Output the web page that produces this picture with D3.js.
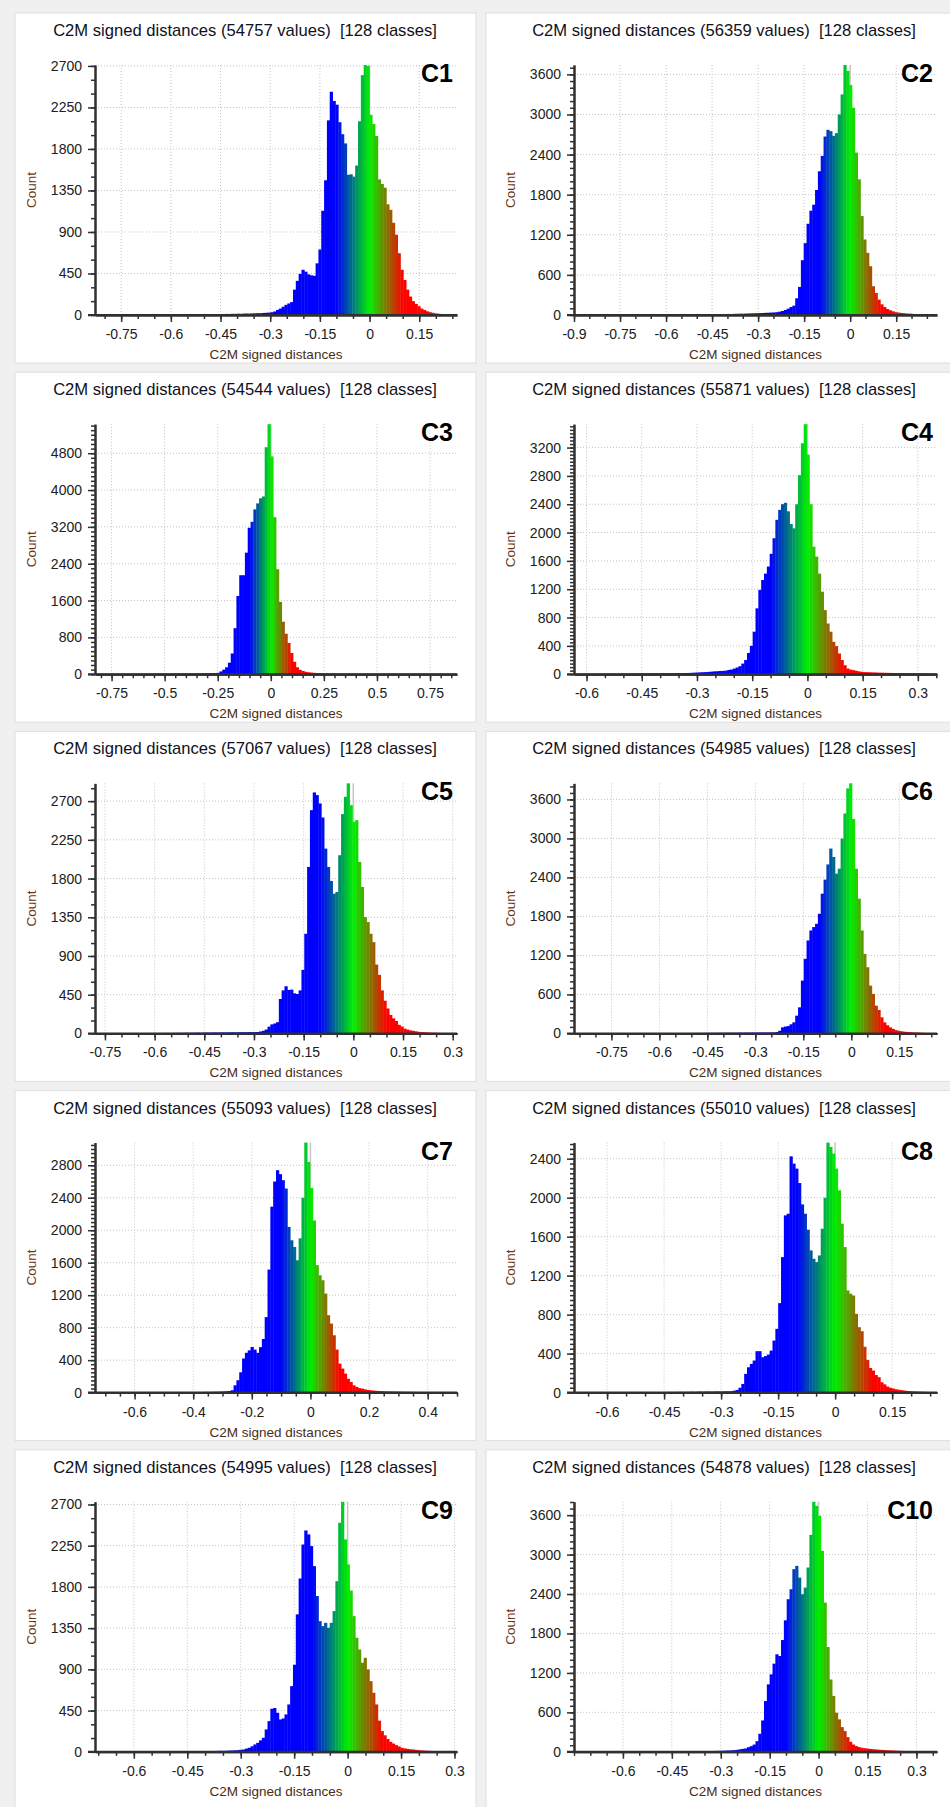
<!DOCTYPE html>
<html>
<head>
<meta charset="utf-8">
<script src="https://cdn.jsdelivr.net/npm/d3@7"></script>
<style>
  body { margin: 0; background: #f0f0f0; }
  svg { display: block; }
  text { font-family: "Liberation Sans", Arial, sans-serif; }
</style>
</head>
<body>
<svg id="chart" width="950" height="1807"></svg>
<script>
// ------------------------------------------------------------
// DATA
// ------------------------------------------------------------
const panelNames  = ["C1","C2","C3","C4","C5","C6","C7","C8","C9","C10"];
const valueTotals = [54757,56359,54544,55871,57067,54985,55093,55010,54995,54878];
const classCount  = 128;

// histogram range (min / max distance) of each panel
const xMins = [-0.829,-0.9,-0.828,-0.634,-0.78,-0.867,-0.735,-0.687,-0.709,-0.75];
const xMaxs = [0.264,0.283,0.877,0.352,0.313,0.268,0.5,0.268,0.307,0.363];

const xTicks = [
  [-0.75,-0.6,-0.45,-0.3,-0.15,0,0.15],
  [-0.9,-0.75,-0.6,-0.45,-0.3,-0.15,0,0.15],
  [-0.75,-0.5,-0.25,0,0.25,0.5,0.75],
  [-0.6,-0.45,-0.3,-0.15,0,0.15,0.3],
  [-0.75,-0.6,-0.45,-0.3,-0.15,0,0.15,0.3],
  [-0.75,-0.6,-0.45,-0.3,-0.15,0,0.15],
  [-0.6,-0.4,-0.2,0,0.2,0.4],
  [-0.6,-0.45,-0.3,-0.15,0,0.15],
  [-0.6,-0.45,-0.3,-0.15,0,0.15,0.3],
  [-0.6,-0.45,-0.3,-0.15,0,0.15,0.3]
];
const yTicks = [
  [0,450,900,1350,1800,2250,2700],
  [0,600,1200,1800,2400,3000,3600],
  [0,800,1600,2400,3200,4000,4800],
  [0,400,800,1200,1600,2000,2400,2800,3200],
  [0,450,900,1350,1800,2250,2700],
  [0,600,1200,1800,2400,3000,3600],
  [0,400,800,1200,1600,2000,2400,2800],
  [0,400,800,1200,1600,2000,2400],
  [0,450,900,1350,1800,2250,2700],
  [0,600,1200,1800,2400,3000,3600]
];
const yMinorSteps = [150,100,100,50,150,100,50,50,150,100];

const countsC1 = [
  1,1,2,1,2,2,1,2,3,2, 2,3,2,3,3,2,3,4,3,3, 4,3,4,5,4,5,4,5,6,5, 6,5,6,7,6,7,8,7,8,9,
  8,9,10,9,11,10,12,11,13,12, 14,13,15,16,15,17,18,20,19,22, 24,26,30,38,55,70,90,110,125,140,
  275,370,446,490,470,440,430,425,560,710, 1130,1460,2110,2420,2320,2280,2090,1960,1860,1520,
  1525,1500,1620,2100,2600,2710,2700,2170,2070,1940, 1470,1420,1380,1200,1140,1000,870,670,490,380,
  275,200,150,120,95,70,54,40,30,24, 18,14,11,9,7,5,4,3
];
const countsC2 = [
  1,0,1,1,0,1,1,2,1,1, 2,1,2,2,1,2,3,2,2,3, 3,2,3,4,3,3,4,4,5,4, 5,4,5,6,5,6,7,6,7,8,
  7,8,9,8,10,9,11,10,12,13, 12,14,13,15,16,15,17,18,20,19, 21,22,24,25,27,28,30,32,34,36,
  38,42,50,60,75,95,120,140,250,420, 820,1075,1365,1560,1650,1870,2150,2380,2670,2770,
  2750,2680,2720,3000,3300,3740,3650,3440,3100,2430, 2030,1480,1130,930,730,430,330,230,160,120,
  90,70,55,42,36,30,26,22,20,17, 15,12,10,8,6,5,4,3
];
const countsC3 = [
  2,2,3,2,3,3,4,3,4,5, 4,5,5,6,5,6,7,6,7,8, 7,8,9,8,9,10,9,11,10,12, 11,13,12,14,13,15,14,16,17,18,
  19,21,24,30,60,100,150,250,450,1000, 1700,2150,2150,2640,3180,3310,3580,3710,3820,3860,
  4930,5430,4730,3410,2280,1570,1140,880,680,460, 270,150,95,70,52,42,35,29,24,20,
  16,14,12,11,10,9,8,8,7,7, 6,6,5,5,5,4,4,4,3,3, 3,3,2,3,2,2,2,2,2,1,
  2,1,1,2,1,1,1,1,2,1, 1,1,1,0,1,1,1,1
];
const countsC4 = [
  1,1,2,1,2,2,3,2,3,3, 3,4,3,4,5,4,5,6,5,6, 7,6,8,9,10,9,8,9,10,11, 10,12,11,12,13,14,15,14,16,17,
  18,20,22,24,26,28,30,33,36,40, 42,45,47,50,60,66,80,95,113,150,
  200,300,400,600,930,1190,1330,1420,1520,1700, 1920,2180,2320,2400,2420,2300,2120,2060,2400,2810,
  3260,3530,3100,2400,1800,1660,1420,1165,905,716, 600,457,396,292,200,127,80,65,57,48,
  40,33,30,28,27,25,24,22,21,20, 19,18,17,16,15,15,14,14,13,12, 11,10,9,8,7,6,5,4
];
const countsC5 = [
  1,1,2,1,1,2,2,1,2,2, 3,2,3,3,2,3,4,3,3,4, 4,5,4,5,5,6,5,6,6,7, 6,7,8,7,8,8,9,8,9,10,
  9,10,11,10,11,12,11,12,13,12, 13,14,13,14,15,14,15,16,22,30,
  45,78,105,115,130,400,500,548,505,509, 466,458,500,738,1158,1935,2595,2801,2770,2673,
  2510,2148,1935,1772,1624,1643,2071,2549,2750,2906, 2653,2459,2479,1993,1702,1352,1294,1158,1061,800,
  680,500,380,290,215,175,145,100,80,55, 45,35,30,24,18,15,13,11,9,8, 7,6,5,5,4,4,3,3
];
const countsC6 = [
  1,1,1,2,1,1,2,1,2,2, 1,2,2,3,2,2,3,2,3,3, 3,4,3,4,4,3,4,5,4,5, 5,4,5,6,5,6,6,5,6,7,
  6,7,7,8,7,8,8,9,8,9, 9,10,9,10,10,11,10,11,12,11, 12,12,13,12,13,14,13,14,14,15,
  15,22,41,93,105,113,140,170,273,401, 813,1147,1430,1584,1636,1687,1841,2150,2366,2600,
  2844,2715,2458,2535,2998,3384,3770,3847,3300,2535, 2073,1584,1224,1018,735,607,427,360,247,170,
  125,93,70,51,40,32,26,22,19,16, 14,12,10,8,6,5,4,3
];
const countsC7 = [
  2,1,2,2,1,2,3,2,2,3, 2,3,3,2,3,4,3,3,4,3, 4,4,5,4,5,4,5,6,5,6, 6,5,6,7,6,7,8,7,8,9,
  8,9,10,11,12,14,16,20,29,90, 152,250,420,490,520,562,530,490,560,660,
  930,1515,2290,2600,2739,2690,2616,2513,2041,1876, 1794,1630,1900,2400,3079,2840,2520,2120,1570,1445,
  1384,1219,953,850,706,530,357,296,234,170, 130,90,70,55,49,40,32,29,25,22,
  20,18,16,15,14,13,12,12,11,10, 10,9,9,8,8,7,7,6,6,5, 5,5,4,4,4,3,3,3
];
const countsC8 = [
  1,2,1,2,2,1,2,3,2,2, 3,2,3,3,2,3,4,3,4,3, 4,4,3,5,4,5,4,5,5,6, 5,6,6,7,6,7,7,8,7,8,
  8,9,8,9,10,9,10,11,10,11, 12,11,12,13,13,14,20,27,50,89,
  192,260,294,329,425,425,363,375,390,431, 534,654,918,1390,1818,1835,2424,2349,2298,2150,
  1931,1835,1671,1459,1373,1339,1407,1681,2000,2565, 2520,2452,2298,2075,1733,1493,1048,1014,996,808,
  671,630,470,336,253,226,180,158,106,85, 62,50,42,34,29,25,21,17,15,13, 11,10,9,8,7,6,5,4
];
const countsC9 = [
  1,1,2,1,2,2,1,2,2,3, 2,2,3,3,2,3,3,4,3,4, 4,3,4,5,4,5,5,4,5,6, 5,6,6,7,6,7,8,7,8,8,
  9,8,9,10,11,10,12,13,14,16, 18,22,25,35,44,60,80,98,125,153,
  244,335,470,478,426,353,364,408,517,717, 950,1500,1892,2263,2416,2373,2245,2027,1700,1426,
  1372,1408,1354,1408,1536,1863,2500,2729,2318,2045, 1760,1481,1245,1117,972,1026,899,771,644,517,
  340,226,180,140,109,90,73,58,44,37, 32,28,25,21,18,15,13,11,10,9, 8,7,6,6,5,5,4,4
];
const countsC10 = [
  1,1,2,1,2,1,2,2,3,2, 2,3,2,3,3,2,3,4,3,3, 4,4,3,5,4,5,5,4,5,6, 5,6,6,5,7,6,7,8,7,8,
  8,9,9,10,9,11,10,12,11,13, 14,15,16,18,20,22,25,30,38,45,
  51,70,86,110,162,274,477,772,1026,1178, 1341,1483,1457,1700,2000,2321,2473,2778,2828,2650,
  2397,2498,2803,3300,3803,3742,3590,3057,2270,1594, 1100,850,594,493,376,315,223,152,110,86,
  72,61,55,48,43,39,36,32,29,26, 23,21,19,17,15,14,13,12,11,10, 9,8,7,6,6,5,5,4
];
const allCounts = [countsC1,countsC2,countsC3,countsC4,countsC5,countsC6,countsC7,countsC8,countsC9,countsC10];

// ------------------------------------------------------------
// LAYOUT
// ------------------------------------------------------------
const columns = [
  { left: 15,  width: 461, plotL: 95,  plotR: 457, titleX: 245 },
  { left: 486, width: 480, plotL: 574, plotR: 937, titleX: 724 }
];
const rowStep = 359.2;

// blue -> green -> red colour scale on the distance value
const colorScale = d3.scaleLinear()
  .domain([-0.1, 0, 0.1])
  .range(["#0000ff", "#00f000", "#ff0000"])
  .clamp(true);

const svg = d3.select("#chart");
svg.append("rect").attr("width", 950).attr("height", 1807).attr("fill", "#f0f0f0");

panelNames.forEach((name, i) => {
  const col = columns[i % 2];
  const row = Math.floor(i / 2);
  const py = 13 + row * rowStep;
  const top = py + 52, bottom = py + 302;
  const counts = allCounts[i];

  const g = svg.append("g").attr("class", "panel");

  g.append("rect")
    .attr("x", col.left).attr("y", py)
    .attr("width", col.width).attr("height", row === 4 ? 400 : 350)
    .attr("fill", "white").attr("stroke", "#dedede");

  const x = d3.scaleLinear().domain([xMins[i], xMaxs[i]]).range([col.plotL, col.plotR]);
  const y = d3.scaleLinear().domain([0, d3.max(counts)]).range([bottom, top]);
  const binW = (xMaxs[i] - xMins[i]) / classCount;

  // title
  g.append("text")
    .attr("x", col.titleX).attr("y", py + 23)
    .attr("text-anchor", "middle")
    .style("white-space", "pre")
    .style("font-size", "16.6px").style("fill", "#101020")
    .text(`C2M signed distances (${valueTotals[i]} values)  [${classCount} classes]`);

  // grid
  g.selectAll(".vgrid").data(xTicks[i]).join("line")
    .attr("x1", d => x(d)).attr("x2", d => x(d))
    .attr("y1", top).attr("y2", bottom)
    .attr("stroke", "#c4c4c4").attr("stroke-dasharray", "1,2");
  g.selectAll(".hgrid").data(yTicks[i].filter(d => d > 0)).join("line")
    .attr("x1", col.plotL).attr("x2", col.plotR)
    .attr("y1", d => y(d)).attr("y2", d => y(d))
    .attr("stroke", "#c4c4c4").attr("stroke-dasharray", "1,2");

  // zero marker
  g.append("line")
    .attr("x1", x(0)).attr("x2", x(0)).attr("y1", top).attr("y2", bottom)
    .attr("stroke", "#c6c6c6").attr("stroke-width", 1.5);

  // bars
  g.selectAll(".bar").data(counts).join("rect")
    .attr("x", (d, k) => x(xMins[i] + k * binW))
    .attr("y", d => y(d))
    .attr("width", (d, k) => x(xMins[i] + (k + 1) * binW) - x(xMins[i] + k * binW) + 0.4)
    .attr("height", d => bottom - y(d))
    .attr("fill", (d, k) => colorScale(xMins[i] + (k + 0.5) * binW));

  // axes: minor ticks
  const xMinor = d3.range(Math.ceil(xMins[i] / 0.05 - 1e-6), Math.floor(xMaxs[i] / 0.05 + 1e-6) + 1).map(k => k * 0.05);
  const yMinor = d3.range(0, d3.max(counts) + 1, yMinorSteps[i]);

  const axisStyle = sel => {
    sel.selectAll("path").attr("stroke", "#303030").attr("stroke-width", 2);
    sel.selectAll("line").attr("stroke", "#303030").attr("stroke-width", 1.5);
    sel.selectAll("text").attr("fill", "#202020")
      .style("font-family", "'Liberation Sans', Arial, sans-serif").style("font-size", "14px");
  };

  g.append("g").attr("transform", `translate(0,${bottom})`)
    .call(d3.axisBottom(x).tickValues(xMinor).tickSize(4).tickSizeOuter(0).tickFormat(""))
    .call(axisStyle);
  g.append("g").attr("transform", `translate(0,${bottom})`)
    .call(d3.axisBottom(x).tickValues(xTicks[i]).tickSize(7).tickSizeOuter(0).tickPadding(7).tickFormat(d => String(d)))
    .call(axisStyle);

  g.append("g").attr("transform", `translate(${col.plotL},0)`)
    .call(d3.axisLeft(y).tickValues(yMinor).tickSize(4).tickSizeOuter(0).tickFormat(""))
    .call(axisStyle);
  g.append("g").attr("transform", `translate(${col.plotL},0)`)
    .call(d3.axisLeft(y).tickValues(yTicks[i]).tickSize(7).tickSizeOuter(0).tickPadding(6).tickFormat(d => String(d)))
    .call(axisStyle);

  // extend x axis line under the y axis' zero tick
  g.append("line")
    .attr("x1", col.plotL - 7).attr("x2", col.plotR)
    .attr("y1", bottom).attr("y2", bottom)
    .attr("stroke", "#303030").attr("stroke-width", 2);

  // axis titles
  g.append("text")
    .attr("x", (col.plotL + col.plotR) / 2).attr("y", bottom + 44)
    .attr("text-anchor", "middle")
    .style("font-size", "13.5px").style("fill", "#4a2c14")
    .text("C2M signed distances");

  g.append("text")
    .attr("transform", `translate(${col.plotL - 59},${(top + bottom) / 2}) rotate(-90)`)
    .attr("text-anchor", "middle")
    .style("font-size", "13.5px").style("fill", "#6a3410")
    .text("Count");

  // panel label
  g.append("text")
    .attr("x", col.plotR - 4).attr("y", top + 17)
    .attr("text-anchor", "end")
    .style("font-size", "25px").style("font-weight", "bold").style("fill", "#000")
    .text(name);
});
</script>
</body>
</html>
